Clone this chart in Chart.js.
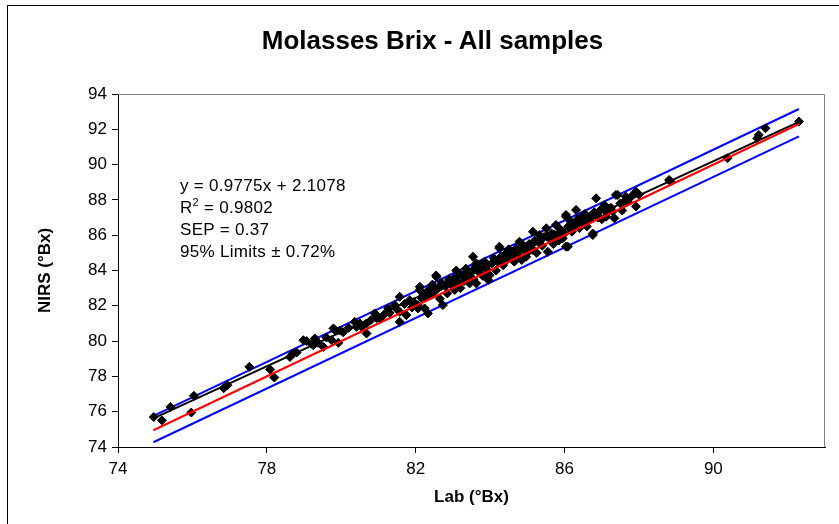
<!DOCTYPE html>
<html>
<head>
<meta charset="utf-8">
<script src="https://cdn.jsdelivr.net/npm/chart.js@4.4.0/dist/chart.umd.min.js"></script>
<style>
  body { margin: 0; background: #fff; overflow: hidden; }
  #wrap { position: relative; width: 839px; height: 524px; overflow: hidden; font-family: 'Liberation Sans', Arial, sans-serif; }
  #frame { position: absolute; left: 7px; top: 5px; width: 900px; height: 600px; border: 1px solid #000; }
  #title { position: absolute; left: 0; width: 865px; top: 25px; line-height: 30px; text-align: center; font-size: 26px; font-weight: bold; color: #000; }
  #stats { position: absolute; left: 180px; top: 175px; font-size: 17px; line-height: 22px; letter-spacing: 0.3px; color: #000; }
  #stats sup { font-size: 11px; line-height: 0; }
  canvas { position: absolute; left: 0; top: 0; }
</style>
</head>
<body>
<div id="wrap">
  <div id="frame"></div>
  <canvas id="chart" width="839" height="524"></canvas>
  <div id="title">Molasses Brix - All samples</div>
  <div id="stats">
    y = 0.9775x + 2.1078<br>
    R<sup>2</sup> = 0.9802<br>
    SEP = 0.37<br>
    95% Limits ± 0.72%
  </div>
</div>
<script>
// tick labels
const xTicks = [74, 78, 82, 86, 90];
const yTicks = [74, 76, 78, 80, 82, 84, 86, 88, 90, 92, 94];

// samples: lab value vs NIRS prediction
const labBx = [
  74.96, 75.18, 75.41, 75.97, 76.04, 76.84, 76.94, 77.53, 78.09, 78.2,
  78.62, 78.71, 78.8, 78.98, 79.07, 79.2, 79.25, 79.29, 79.38, 79.52, 79.6, 79.74, 79.79, 79.83, 79.92, 79.97, 80.05,
  80.2, 80.36, 80.41, 80.5, 80.55, 80.68, 80.68, 80.8, 80.9, 80.95, 81.04, 81.15, 81.26, 81.3, 81.44, 81.5, 81.57, 81.57, 81.57, 81.7, 81.75, 81.84, 81.9, 81.95,
  82.06, 82.06, 82.11, 82.11, 82.2, 82.24, 82.25, 82.33, 82.35, 82.4, 82.45, 82.5, 82.55, 82.56, 82.6, 82.65, 82.7, 82.73, 82.8, 82.85, 82.9, 82.95, 83.0, 83.05, 83.09, 83.1, 83.15, 83.2, 83.27, 83.3, 83.35, 83.4, 83.45, 83.5, 83.54, 83.55, 83.6, 83.63, 83.63, 83.7, 83.75, 83.8, 83.85, 83.9, 83.95, 83.99,
  82.15, 82.3, 82.5, 82.68, 82.88, 83.02, 83.22, 83.42, 83.58, 83.78, 83.92,
  84.05, 84.1, 84.16, 84.2, 84.25, 84.25, 84.3, 84.35, 84.4, 84.45, 84.48, 84.5, 84.57, 84.6, 84.65, 84.7, 84.75, 84.79, 84.8, 84.85, 84.9, 84.97, 84.97, 85.0, 85.05, 85.1, 85.15, 85.15, 85.2, 85.25, 85.3, 85.33, 85.4, 85.45, 85.51, 85.55, 85.6, 85.65, 85.7, 85.77, 85.8, 85.85, 85.9, 85.95, 86.0,
  84.12, 84.32, 84.52, 84.72, 84.92, 85.12, 85.32, 85.52, 85.72, 85.92,
  86.04, 86.04, 86.04, 86.09, 86.1, 86.15, 86.2, 86.25, 86.31, 86.31, 86.35, 86.4, 86.45, 86.5, 86.55, 86.6, 86.65, 86.7, 86.76, 86.76, 86.8, 86.85, 86.9, 86.95, 87.0, 87.07, 87.12, 87.2, 87.29, 87.34, 87.38, 87.43, 87.5, 87.55, 87.65, 87.7, 87.8, 87.92, 87.92, 88.0,
  86.12, 86.28, 86.42, 86.58, 86.72, 86.88, 87.1, 87.25, 87.6,
  88.81, 88.85, 90.38, 91.18, 91.22, 91.4, 92.3
];
const nirsBx = [
  75.70, 75.51, 76.27, 75.95, 76.9, 77.33, 77.5, 78.54, 78.39, 77.94,
  79.1, 79.3, 79.35, 80.05, 80.0, 79.85, 79.77, 80.15, 79.9, 79.67, 80.2, 80.05, 80.72, 80.62, 79.9, 80.6, 80.5,
  80.75, 81.09, 80.81, 81.0, 80.8, 80.43, 81.0, 81.2, 81.57, 81.3, 81.28, 81.5, 81.85, 81.6, 82.04, 81.8, 82.51, 81.66, 81.09, 82.1, 81.47, 82.32, 81.9, 82.2,
  82.04, 81.85, 82.89, 83.08, 82.7, 81.85, 82.5, 81.57, 82.9, 82.6, 83.2, 82.8, 83.72, 83.64, 83.0, 82.4, 83.3, 82.04, 83.1, 82.7, 83.5, 83.2, 83.27, 82.9, 84.0, 83.6, 83.3, 83.0, 83.72, 83.4, 84.1, 83.6, 83.27, 83.9, 84.78, 83.5, 84.2, 84.4, 83.27, 83.9, 84.3, 83.7, 84.5, 84.1, 83.46, 83.74,
  82.45, 82.75, 82.95, 83.1, 83.35, 83.55, 83.75, 83.95, 84.05, 84.15, 84.35,
  84.4, 84.7, 84.0, 84.5, 85.35, 85.26, 84.8, 84.3, 84.9, 84.6, 84.97, 85.2, 84.78, 85.0, 84.5, 85.25, 84.9, 85.63, 85.1, 84.6, 85.4, 85.35, 84.78, 85.0, 85.5, 85.3, 86.2, 85.16, 85.7, 85.0, 85.6, 86.01, 85.4, 85.9, 86.39, 85.06, 85.8, 86.1, 85.5, 86.58, 86.0, 85.7, 86.3, 85.82, 86.1,
  84.55, 84.75, 84.85, 85.05, 85.3, 85.45, 85.65, 85.95, 86.05, 86.25,
  87.15, 85.35, 87.05, 85.35, 86.5, 86.8, 86.2, 86.6, 86.76, 87.43, 86.9, 86.4, 87.0, 86.7, 87.2, 86.5, 86.9, 87.1, 86.01, 86.1, 87.3, 88.09, 87.0, 87.4, 86.9, 87.71, 87.05, 87.5, 87.34, 86.96, 88.28, 88.28, 87.8, 87.4, 88.18, 87.9, 88.2, 88.47, 87.62, 88.3,
  86.45, 86.55, 86.75, 86.85, 87.0, 87.15, 87.35, 87.55, 87.9,
  89.13, 89.05, 90.36, 91.49, 91.68, 92.06, 92.44
];

// line end points
const fitLine = [[74.95, 75.62], [92.3, 92.42]];
const oneToOne = [[74.95, 74.95], [92.3, 92.3]];
const upperLimit = [[74.95, 75.76], [92.3, 93.15]];
const lowerLimit = [[74.95, 74.27], [92.3, 91.6]];

const toPts = (arr) => arr.map(([x, y]) => ({ x, y }));
const samples = labBx.map((x, i) => ({ x, y: nirsBx[i] }));

const font = 'Liberation Sans, Arial, sans-serif';

const plotFrame = {
  id: 'plotFrame',
  beforeDatasetsDraw(chart) {
    const { ctx, chartArea: a } = chart;
    ctx.save();
    ctx.strokeStyle = '#808080';
    ctx.lineWidth = 1;
    ctx.beginPath();
    ctx.moveTo(a.left, a.top + 0.5);
    ctx.lineTo(a.right - 0.5, a.top + 0.5);
    ctx.lineTo(a.right - 0.5, a.bottom);
    ctx.stroke();
    ctx.restore();
  }
};

const lineSet = (data, color) => ({
  data: toPts(data),
  showLine: true,
  borderColor: color,
  borderWidth: 2,
  pointRadius: 0,
  fill: false,
});

new Chart(document.getElementById('chart').getContext('2d'), {
  type: 'scatter',
  data: {
    datasets: [
      lineSet(oneToOne, '#ff0000'),
      lineSet(fitLine, '#000000'),
      {
        data: samples,
        pointStyle: 'rectRot',
        pointRadius: 4.5,
        backgroundColor: '#000',
        borderColor: '#000',
        borderWidth: 1,
      },
      lineSet(upperLimit, '#0000ff'),
      lineSet(lowerLimit, '#0000ff'),
    ],
  },
  options: {
    responsive: false,
    animation: false,
    devicePixelRatio: 1,
    layout: { padding: { left: 20, top: 94, right: 14, bottom: 0 } },
    plugins: { legend: { display: false }, tooltip: { enabled: false } },
    scales: {
      x: {
        type: 'linear',
        min: 74,
        max: 93,
        afterBuildTicks: (s) => { s.ticks = xTicks.map((v) => ({ value: v })); },
        afterFit: (s) => { s.height = 77; },
        ticks: { color: '#000', font: { family: font, size: 17 }, padding: 6 },
        grid: { drawOnChartArea: false, drawTicks: true, tickLength: 6, tickColor: '#000' },
        border: { display: true, color: '#000', width: 1 },
        title: {
          display: true,
          text: 'Lab (°Bx)',
          color: '#000',
          font: { family: font, size: 17, weight: 'bold' },
          padding: { top: 0, bottom: 16 },
        },
      },
      y: {
        type: 'linear',
        min: 74,
        max: 94,
        afterBuildTicks: (s) => { s.ticks = yTicks.map((v) => ({ value: v })); },
        afterFit: (s) => { s.width = 98; },
        ticks: { color: '#000', font: { family: font, size: 17 }, padding: 5 },
        grid: { drawOnChartArea: false, drawTicks: true, tickLength: 6, tickColor: '#000' },
        border: { display: true, color: '#000', width: 1 },
        title: {
          display: true,
          text: 'NIRS (°Bx)',
          color: '#000',
          font: { family: font, size: 17, weight: 'bold' },
          padding: { top: 15, bottom: 0 },
        },
      },
    },
  },
  plugins: [plotFrame],
});
</script>
</body>
</html>
